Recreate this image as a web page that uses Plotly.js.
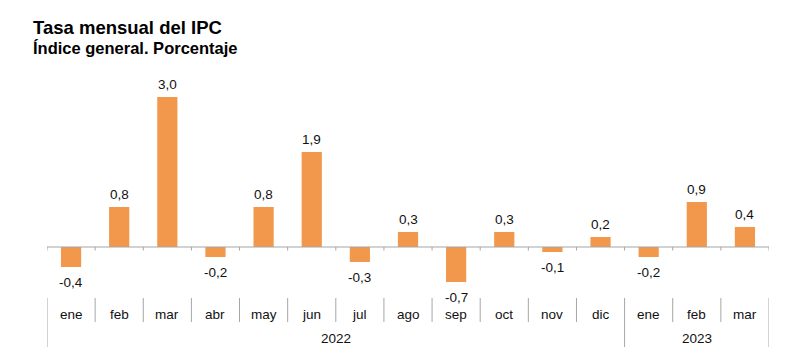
<!DOCTYPE html>
<html><head><meta charset="utf-8">
<script src="https://cdn.plot.ly/plotly-3.0.1.min.js"></script>
<style>body{margin:0;background:#fff}#c{width:792px;height:362px}</style>
</head><body><div id="c"></div>
<script>
const months = ['ene','feb','mar','abr','may','jun','jul','ago','sep','oct','nov','dic','ene','feb','mar'];
const values = [-0.4,0.8,3.0,-0.2,0.8,1.9,-0.3,0.3,-0.7,0.3,-0.1,0.2,-0.2,0.9,0.4];
const years = ['2022','2023'];
const yearCounts = [12,3];
const titleText = 'Tasa mensual del IPC';
const subtitleText = 'Índice general. Porcentaje';

const FONT = 'Liberation Sans, Arial, sans-serif';
const GRAY = '#a6a6a6';
const xs = months.map((m,i)=>i);
const fmt = v => v.toFixed(1).replace('.', ',');

const shapes = [];
shapes.push({type:'line', xref:'x', yref:'y', x0:-0.5, x1:months.length-0.5, y0:0, y1:0, line:{color:GRAY, width:1.2}});
const yearBounds = [];
let acc = 0; yearBounds.push(acc);
yearCounts.forEach(c=>{acc+=c; yearBounds.push(acc);});
for (let k=0;k<=months.length;k++){
  const xb = k-0.5;
  shapes.push({type:'line', xref:'x', yref:'y', x0:xb, x1:xb, y0:0, y1:-0.07, line:{color:GRAY, width:1}});
  const isYear = yearBounds.includes(k);
  shapes.push({type:'line', xref:'x', yref:'y', x0:xb, x1:xb, y0:-1.02, y1:isYear?-2.0:-1.5, line:{color:GRAY, width:1}});
}

const annotations = [];
values.forEach((v,i)=>{
  annotations.push({x:i, y:v, xref:'x', yref:'y', text:fmt(v), showarrow:false,
    yanchor: v>=0?'bottom':'top', yshift: v>=0?3:-6, font:{family:FONT, size:13.5, color:'#111'}});
});
months.forEach((m,i)=>{
  annotations.push({x:i, y:-1.34, xref:'x', yref:'y', text:m, showarrow:false, yanchor:'middle', font:{family:FONT, size:13.5, color:'#111'}});
});
years.forEach((yr,j)=>{
  const xc = (yearBounds[j]+yearBounds[j+1]-1)/2;
  annotations.push({x:xc, y:-1.82, xref:'x', yref:'y', text:yr, showarrow:false, yanchor:'middle', font:{family:FONT, size:13.5, color:'#111'}});
});
annotations.push({x:-0.0222, y:1.196, xref:'paper', yref:'paper', xanchor:'left', yanchor:'middle', text:'<b>'+titleText+'</b>', showarrow:false, font:{family:FONT, size:18.5, color:'#000'}});
annotations.push({x:-0.0222, y:1.12, xref:'paper', yref:'paper', xanchor:'left', yanchor:'middle', text:'<b>'+subtitleText+'</b>', showarrow:false, font:{family:FONT, size:16.5, color:'#000'}});

Plotly.newPlot('c', [{
  type:'bar', x:xs, y:values, width:0.42,
  marker:{color:'#F2984C', line:{width:0}},
  hoverinfo:'skip'
}], {
  width:792, height:362,
  margin:{l:47, r:23, t:80, b:12},
  paper_bgcolor:'#fff', plot_bgcolor:'#fff',
  showlegend:false,
  xaxis:{range:[-0.5, months.length-0.5], visible:false, fixedrange:true},
  yaxis:{range:[-2.06, 3.34], visible:false, fixedrange:true},
  shapes, annotations
}, {staticPlot:true});
</script></body></html>
